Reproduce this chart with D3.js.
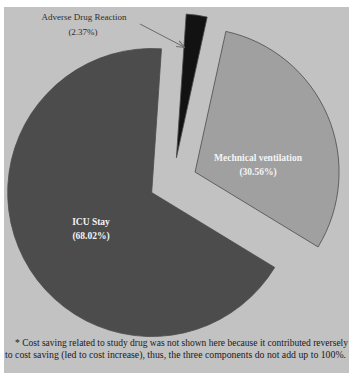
<!DOCTYPE html>
<html>
<head>
<meta charset="utf-8">
<script src="https://cdn.jsdelivr.net/npm/d3@7/dist/d3.min.js"></script>
<style>
  html, body { margin: 0; padding: 0; background: #ffffff; }
  svg { display: block; }
</style>
</head>
<body>
<svg id="chart" width="349" height="373"></svg>
<script>
// ---- data ----
const categories = ["Adverse Drug Reaction", "Mechnical ventilation", "ICU Stay"];
const values = [2.37, 30.56, 68.02];
const percentLabels = ["(2.37%)", "(30.56%)", "(68.02%)"];
const footnoteLines = [
  "* Cost saving related to study drug was not shown here because it contributed reversely",
  "to cost saving (led to cost increase), thus, the three components do not add up to 100%."
];

// ---- layout ----
const W = 349, H = 373;
const cx = 173, cy = 181.5, R = 144, explode = 24;
const fills = { "Adverse Drug Reaction": "#121212", "Mechnical ventilation": "#a0a0a0", "ICU Stay": "#4c4c4c" };
const labelPos = { "Mechnical ventilation": [258, 161], "ICU Stay": [91, 225] };

const svg = d3.select("#chart");
svg.append("rect").attr("x", 4).attr("y", 7).attr("width", W - 4).attr("height", H - 7).attr("fill", "#c2c2c2");

const data = categories.map((c, i) => ({ cat: c, value: values[i], pct: percentLabels[i] }));
const pie = d3.pie().value(d => d.value).sort(null)
  .startAngle(3.9 * Math.PI / 180).endAngle(3.9 * Math.PI / 180 + 2 * Math.PI);
const arcs = pie(data);
const arc = d3.arc().innerRadius(0).outerRadius(R);

const g = svg.append("g").attr("transform", `translate(${cx},${cy})`);
g.selectAll("path.slice").data(arcs).enter().append("path")
  .attr("class", "slice")
  .attr("d", arc)
  .attr("transform", d => {
    const a = (d.startAngle + d.endAngle) / 2;
    return `translate(${explode * Math.sin(a)},${-explode * Math.cos(a)})`;
  })
  .attr("fill", d => fills[d.data.cat])
  .attr("stroke", "#4a4a4a")
  .attr("stroke-width", 0.8);

// inside labels
arcs.filter(d => labelPos[d.data.cat]).forEach(d => {
  const [x, y] = labelPos[d.data.cat];
  const t = svg.append("text").attr("x", x).attr("y", y)
    .attr("text-anchor", "middle")
    .attr("font-family", "'Liberation Serif', 'Times New Roman', serif")
    .attr("font-weight", "bold").attr("font-size", 9.5).attr("fill", "#f4f4f4");
  t.append("tspan").attr("x", x).attr("dy", 0).text(d.data.cat);
  t.append("tspan").attr("x", x).attr("dy", 14).text(d.data.pct);
});

// outside label for ADR with arrow
const adr = arcs[0];
const t2 = svg.append("text").attr("x", 84).attr("y", 20)
  .attr("text-anchor", "middle")
  .attr("font-family", "'Liberation Serif', 'Times New Roman', serif")
  .attr("font-size", 9).attr("fill", "#2e2e2e");
t2.append("tspan").attr("x", 84).attr("dy", 0).text(adr.data.cat);
t2.append("tspan").attr("x", 83).attr("dy", 15).text(adr.data.pct);

svg.append("defs").append("marker")
  .attr("id", "ah").attr("viewBox", "0 0 10 10").attr("refX", 9).attr("refY", 5)
  .attr("markerWidth", 8).attr("markerHeight", 8).attr("orient", "auto")
  .append("path").attr("d", "M0,1 L10,5 L0,9").attr("fill", "none").attr("stroke", "#6a6a6a").attr("stroke-width", 1.2);
svg.append("line").attr("x1", 140).attr("y1", 24).attr("x2", 184).attr("y2", 47)
  .attr("stroke", "#6a6a6a").attr("stroke-width", 1).attr("marker-end", "url(#ah)");

// footnote
svg.append("text").attr("x", 15).attr("y", 346)
  .attr("font-family", "'Liberation Serif', 'Times New Roman', serif")
  .attr("font-size", 9.3).attr("fill", "#1a1a1a")
  .attr("textLength", 333).attr("lengthAdjust", "spacingAndGlyphs")
  .text(footnoteLines[0]);
svg.append("text").attr("x", 5).attr("y", 358)
  .attr("font-family", "'Liberation Serif', 'Times New Roman', serif")
  .attr("font-size", 9.3).attr("fill", "#1a1a1a")
  .attr("textLength", 341).attr("lengthAdjust", "spacingAndGlyphs")
  .text(footnoteLines[1]);
</script>
</body>
</html>
